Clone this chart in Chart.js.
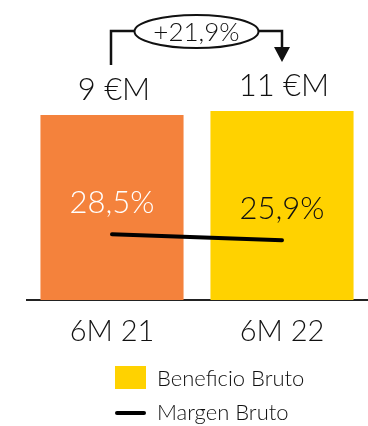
<!DOCTYPE html>
<html>
<head>
<meta charset="utf-8">
<script src="https://cdn.jsdelivr.net/npm/chart.js@4/dist/chart.umd.min.js"></script>
<style>
  html, body { margin: 0; padding: 0; background: #fff; }
  #wrap { width: 368px; height: 426px; }
</style>
</head>
<body>
<div id="wrap"><canvas id="c" width="368" height="426"></canvas></div>
<script>
// Periods and figures
const categories = ['6M 21', '6M 22'];
const beneficioBruto = [9, 11];          // €M
const margenBruto = [28.5, 25.9];        // %
const beneficioLabels = ['9 €M', '11 €M'];
const margenLabels = ['28,5%', '25,9%'];
const growthLabel = '+21,9%';

const barColors = ['#F4823C', '#FFD200'];
const FONT = 'Lato, "Open Sans", sans-serif';

// Value labels, growth bracket and the stacked legend
const annotations = {
  id: 'annotations',
  afterDatasetsDraw(chart) {
    const ctx = chart.ctx;
    const bars = chart.getDatasetMeta(0).data;
    const pts = chart.getDatasetMeta(1).data;
    ctx.save();
    ctx.textAlign = 'center';
    ctx.textBaseline = 'middle';

    // amounts above the bars
    ctx.fillStyle = '#111';
    ctx.font = '300 31px ' + FONT;
    bars.forEach((b, i) => ctx.fillText(beneficioLabels[i], b.x + 2, b.y - 25));

    // margin labels above the line
    pts.forEach((p, i) => {
      ctx.fillStyle = i === 0 ? '#ffffff' : '#111';
      ctx.fillText(margenLabels[i], p.x, p.y - 31);
    });

    // growth bracket
    const x1 = bars[0].x - 1, x2 = bars[1].x;
    const cx = (x1 + x2) / 2, cy = 31.5, rx = 62, ry = 16.5;
    ctx.strokeStyle = '#111';
    ctx.lineWidth = 2.5;
    ctx.beginPath();
    ctx.moveTo(x1, 65); ctx.lineTo(x1, 31); ctx.lineTo(cx - rx, 31);
    ctx.moveTo(cx + rx, 31); ctx.lineTo(x2, 31); ctx.lineTo(x2, 49);
    ctx.stroke();
    ctx.fillStyle = '#111';
    ctx.beginPath();
    ctx.moveTo(x2 - 8, 47); ctx.lineTo(x2 + 8, 47); ctx.lineTo(x2, 62); ctx.closePath();
    ctx.fill();
    ctx.lineWidth = 2;
    ctx.beginPath();
    ctx.ellipse(cx, cy, rx, ry, 0, 0, Math.PI * 2);
    ctx.fillStyle = '#fff';
    ctx.fill();
    ctx.stroke();
    ctx.fillStyle = '#111';
    ctx.font = '300 26px ' + FONT;
    ctx.fillText(growthLabel, cx, cy + 1);

    // legend
    const ds = chart.data.datasets;
    ctx.textAlign = 'left';
    ctx.font = '300 22px ' + FONT;
    ctx.fillStyle = ds[0].backgroundColor[1];
    ctx.fillRect(115, 366, 31, 23);
    ctx.fillStyle = '#111';
    ctx.fillText(ds[0].label, 157, 379);
    ctx.strokeStyle = ds[1].borderColor;
    ctx.lineWidth = 4;
    ctx.lineCap = 'round';
    ctx.beginPath();
    ctx.moveTo(117, 413); ctx.lineTo(144, 413);
    ctx.stroke();
    ctx.fillText(ds[1].label, 157, 413);
    ctx.restore();
  }
};

new Chart(document.getElementById('c'), {
  data: {
    labels: categories,
    datasets: [
      {
        type: 'bar',
        label: 'Beneficio Bruto',
        data: beneficioBruto,
        backgroundColor: barColors,
        borderWidth: 0,
        barPercentage: 0.92,
        categoryPercentage: 0.915,
        yAxisID: 'y',
        order: 1
      },
      {
        type: 'line',
        label: 'Margen Bruto',
        data: margenBruto,
        borderColor: '#000',
        borderWidth: 4,
        borderCapStyle: 'round',
        pointRadius: 0,
        yAxisID: 'y2',
        order: 0
      }
    ]
  },
  options: {
    responsive: false,
    animation: false,
    layout: { padding: { left: 27, right: 1, top: 111, bottom: 0 } },
    plugins: { legend: { display: false }, tooltip: { enabled: false } },
    scales: {
      x: {
        type: 'category',
        grid: { display: false },
        border: { display: true, color: '#222', width: 2 },
        ticks: { color: '#111', font: { family: FONT, size: 29, weight: '300' }, padding: 6 },
        afterFit: (s) => { s.height = 126; }
      },
      y: { type: 'logarithmic', min: 0.001, max: 11, display: false },
      y2: { type: 'linear', min: 0, max: 82, display: false }
    }
  },
  plugins: [annotations]
});
</script>
</body>
</html>
